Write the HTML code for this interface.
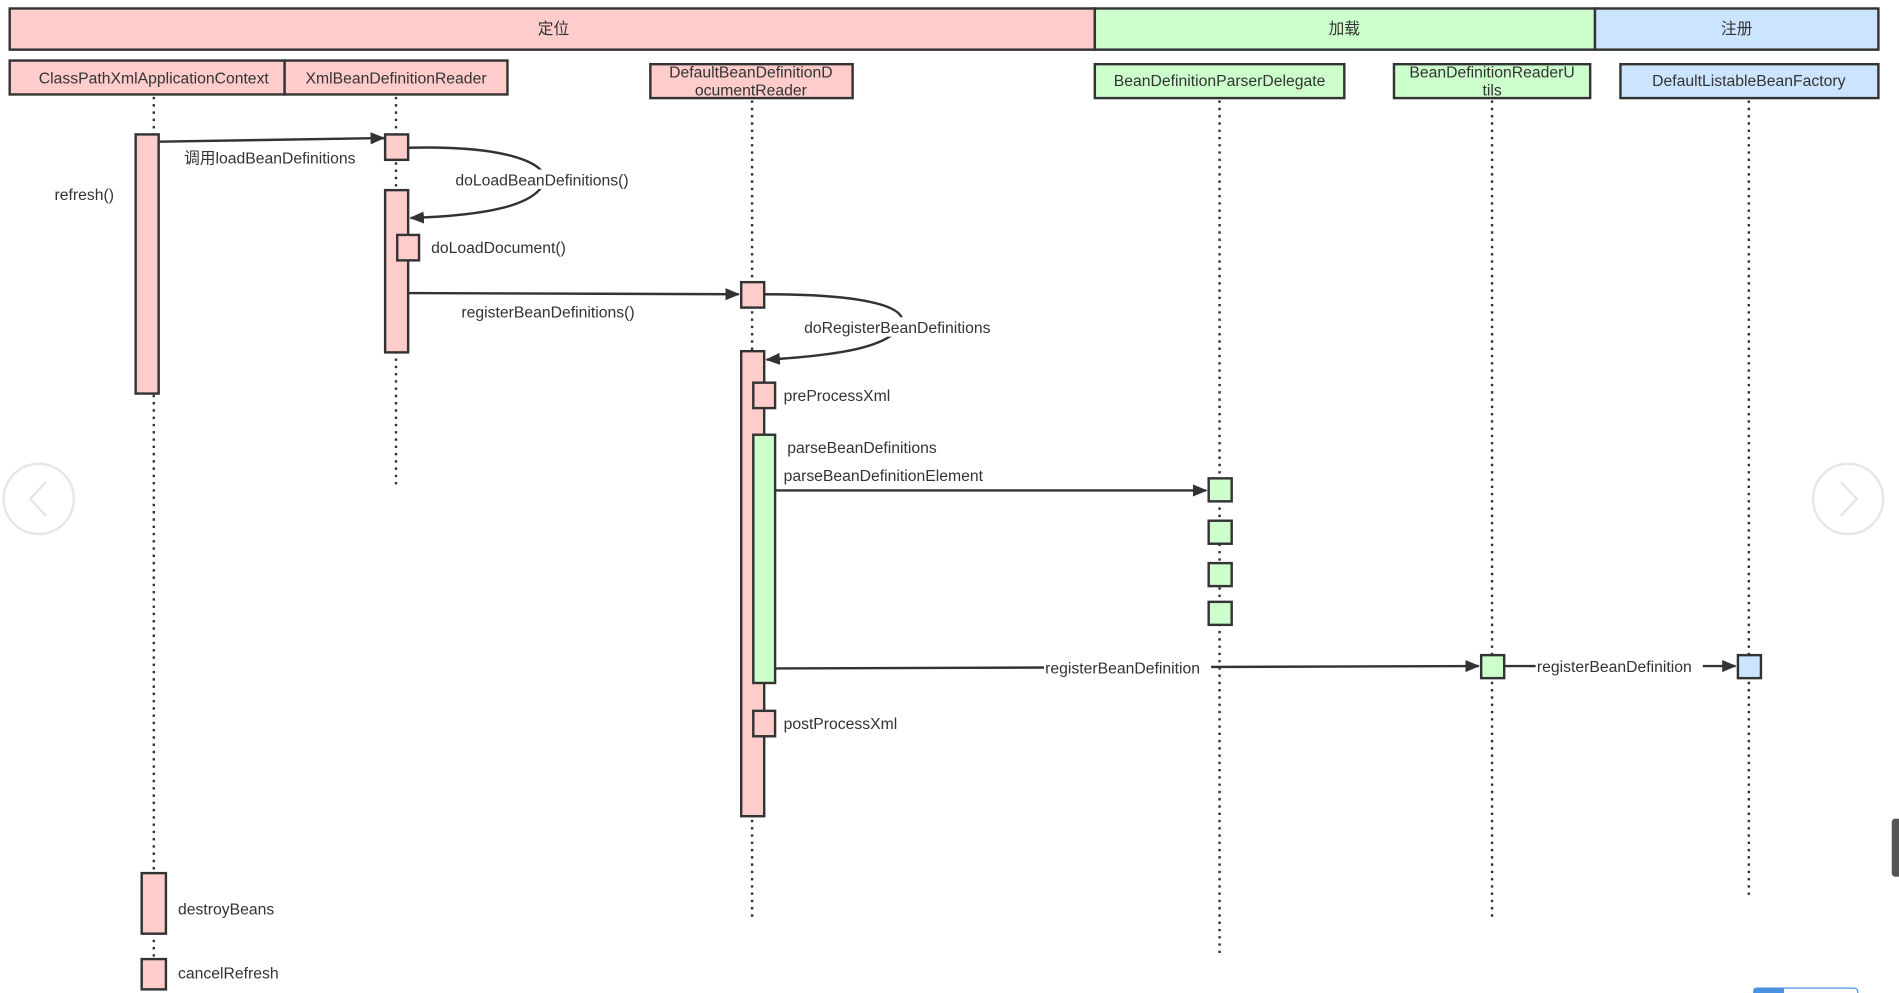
<!DOCTYPE html>
<html><head><meta charset="utf-8"><style>
html,body{margin:0;padding:0;background:#fff;}
svg{display:block;}
text{font-family:"Liberation Sans","Noto Sans CJK SC",sans-serif;font-size:13px;fill:#333;}
</style></head><body>
<svg width="1899" height="993" viewBox="0 0 1568 820" preserveAspectRatio="none" xmlns="http://www.w3.org/2000/svg">
<defs><marker id="a" markerWidth="12" markerHeight="10" refX="11" refY="5" orient="auto" markerUnits="userSpaceOnUse"><path d="M0,0 L12,5 L0,10 Z" fill="#333"/></marker></defs>
<g stroke="#333" stroke-width="2">
<rect x="8" y="7" width="896" height="34" fill="#ffcccc"/>
<rect x="904" y="7" width="413" height="34" fill="#ccffcc"/>
<rect x="1317" y="7" width="234" height="34" fill="#cce5ff"/>
<rect x="8" y="50" width="227" height="28" fill="#ffcccc"/>
<rect x="235" y="50" width="184" height="28" fill="#ffcccc"/>
<rect x="537" y="53" width="167" height="28" fill="#ffcccc"/>
<rect x="904" y="53" width="206" height="28" fill="#ccffcc"/>
<rect x="1151" y="53" width="162" height="28" fill="#ccffcc"/>
<rect x="1338" y="53" width="213" height="28" fill="#cce5ff"/>
</g>
<g stroke="#333" stroke-width="2" stroke-dasharray="2,4" fill="none">
<line x1="127" y1="80" x2="127" y2="818"/>
<line x1="327" y1="80" x2="327" y2="400"/>
<line x1="621" y1="83" x2="621" y2="760"/>
<line x1="1007" y1="83" x2="1007" y2="790"/>
<line x1="1232" y1="83" x2="1232" y2="760"/>
<line x1="1444" y1="83" x2="1444" y2="742"/>
</g>
<g text-anchor="middle">
<text x="457" y="28">定位</text><text x="1110" y="28">加载</text><text x="1434" y="28">注册</text>
<text x="127" y="69">ClassPathXmlApplicationContext</text>
<text x="327" y="69">XmlBeanDefinitionReader</text>
<text x="620" y="64">DefaultBeanDefinitionD</text><text x="620" y="79">ocumentReader</text>
<text x="1007" y="71">BeanDefinitionParserDelegate</text>
<text x="1232" y="64">BeanDefinitionReaderU</text><text x="1232" y="79">tils</text>
<text x="1444" y="71">DefaultListableBeanFactory</text>
</g>
<g stroke="#333" stroke-width="2">
<rect x="112" y="111" width="19" height="214" fill="#ffcccc"/>
<rect x="318" y="111" width="19" height="21" fill="#ffcccc"/>
<rect x="318" y="157" width="19" height="134" fill="#ffcccc"/>
<rect x="328" y="194" width="18" height="21" fill="#ffcccc"/>
<rect x="612" y="233" width="19" height="21" fill="#ffcccc"/>
<rect x="612" y="290" width="19" height="384" fill="#ffcccc"/>
<rect x="622" y="316" width="18" height="21" fill="#ffcccc"/>
<rect x="622" y="359" width="18" height="205" fill="#ccffcc"/>
<rect x="622" y="587" width="18" height="21" fill="#ffcccc"/>
<rect x="998" y="395" width="19" height="19" fill="#ccffcc"/>
<rect x="998" y="430" width="19" height="19" fill="#ccffcc"/>
<rect x="998" y="465" width="19" height="19" fill="#ccffcc"/>
<rect x="998" y="497" width="19" height="19" fill="#ccffcc"/>
<rect x="1223" y="541" width="19" height="19" fill="#ccffcc"/>
<rect x="1435" y="541" width="19" height="19" fill="#cce5ff"/>
<rect x="117" y="721" width="20" height="50" fill="#ffcccc"/>
<rect x="117" y="792" width="20" height="25" fill="#ffcccc"/>
</g>
<g stroke="#333" stroke-width="2" fill="none" marker-end="url(#a)">
<line x1="131" y1="117" x2="317" y2="114"/>
<path d="M337,122 C420,120 450,135 450,148 C445,170 400,178 339,180"/>
<line x1="337" y1="242" x2="610" y2="243"/>
<path d="M631,243 C710,243 745,252 745,265 C740,285 700,293 633,297"/>
<line x1="640" y1="405" x2="996" y2="405"/>
<line x1="640" y1="552" x2="1221" y2="550"/>
<line x1="1242" y1="550" x2="1433" y2="550"/>
</g>
<g>
<rect x="376" y="140" width="150" height="16" fill="#fff"/>
<rect x="662" y="262" width="164" height="16" fill="#fff"/>
<rect x="862" y="543" width="138" height="16" fill="#fff"/>
<rect x="1268" y="542" width="138" height="16" fill="#fff"/>
</g>
<text x="45" y="165">refresh()</text>
<text x="152" y="135">调用loadBeanDefinitions</text>
<text x="376" y="153">doLoadBeanDefinitions()</text>
<text x="356" y="209">doLoadDocument()</text>
<text x="381" y="262">registerBeanDefinitions()</text>
<text x="664" y="275">doRegisterBeanDefinitions</text>
<text x="647" y="331">preProcessXml</text>
<text x="650" y="374">parseBeanDefinitions</text>
<text x="647" y="397">parseBeanDefinitionElement</text>
<text x="863" y="556">registerBeanDefinition</text>
<text x="1269" y="555">registerBeanDefinition</text>
<text x="647" y="602">postProcessXml</text>
<text x="147" y="755">destroyBeans</text>
<text x="147" y="808">cancelRefresh</text>
<g fill="none" stroke="#e6e6e6" stroke-width="2">
<circle cx="32" cy="412" r="29"/><polyline points="38,398 25,412 38,426"/>
<circle cx="1526" cy="412" r="29"/><polyline points="1520,398 1533,412 1520,426"/>
</g>
<rect x="1562" y="676" width="8" height="48" rx="3" fill="#555"/>
<rect x="1448" y="816" width="86" height="6" rx="3" fill="#fff" stroke="#4a90e2"/>
<rect x="1448" y="816" width="25" height="6" fill="#4a90e2"/>
</svg>
</body></html>
